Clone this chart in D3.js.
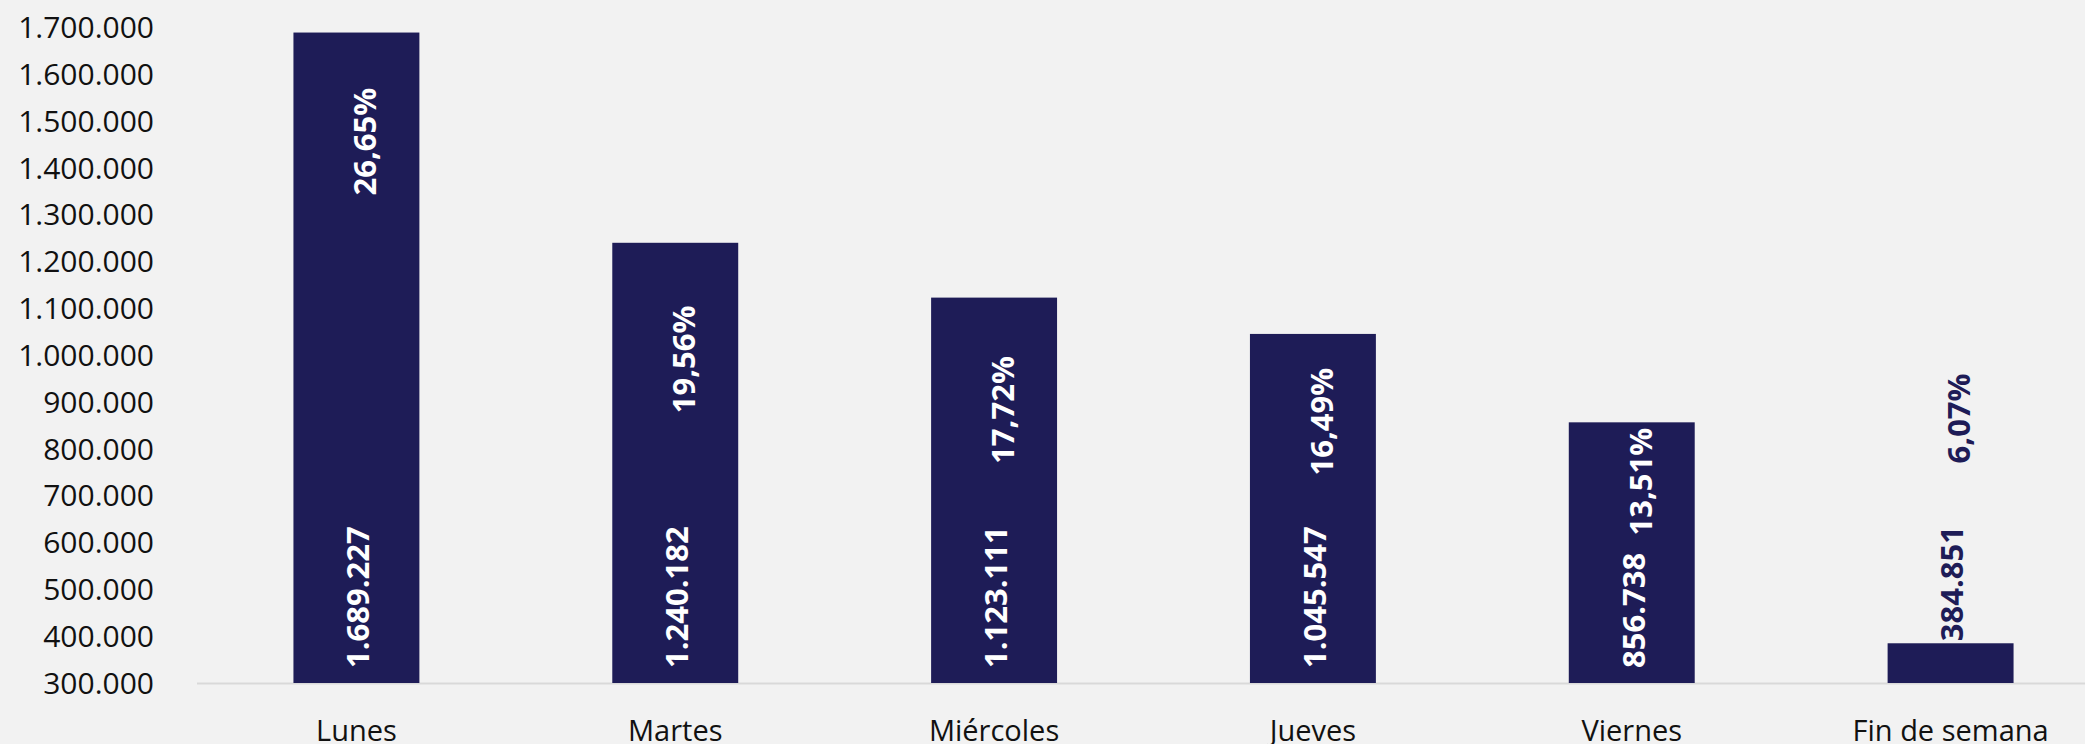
<!DOCTYPE html>
<html>
<head>
<meta charset="utf-8">
<script src="https://cdn.jsdelivr.net/npm/d3@7/dist/d3.min.js"></script>
<style>
  html, body { margin: 0; padding: 0; background: #f2f2f2; overflow: hidden; }
  svg { display: block; }
</style>
</head>
<body>
<svg id="chart" width="2085" height="744"></svg>
<script>
// ---- data ----
const categories = ["Lunes", "Martes", "Miércoles", "Jueves", "Viernes", "Fin de semana"];
const values = [1689227, 1240182, 1123111, 1045547, 856738, 384851];
const shares = ["26,65%", "19,56%", "17,72%", "16,49%", "13,51%", "6,07%"];
// where each share label is centred in axis units
const shareLabelAt = [1456000, 991000, 883000, 858000, 730000, 865000];
const yTicks = [300000, 400000, 500000, 600000, 700000, 800000, 900000, 1000000,
                1100000, 1200000, 1300000, 1400000, 1500000, 1600000, 1700000];

// ---- layout ----
const W = 2085, H = 744;
const barColor = "#1e1c57";
const font = "'Open Sans', 'Noto Sans', sans-serif";

const svg = d3.select("#chart");
svg.append("rect").attr("width", W).attr("height", H).attr("fill", "#f2f2f2");

const x = d3.scaleBand().domain(categories).range([197, 2110])
  .paddingInner(0.605).paddingOuter(0.3025);
const y = d3.scaleLinear().domain([300000, 1700000]).range([683, 27.5]);

const fmt = d3.formatLocale({ decimal: ",", thousands: ".", grouping: [3], currency: ["", "€"] }).format(",d");

// y axis (labels only)
const yAxis = d3.axisLeft(y).tickValues(yTicks).tickFormat(fmt).tickSize(0).tickPadding(0);
const gy = svg.append("g").attr("transform", "translate(154,0)").call(yAxis);
gy.select(".domain").remove();
gy.selectAll("text").attr("font-family", font).attr("font-size", 30).attr("fill", "#111")
  .attr("dy", "0.34em");

// x axis
const xAxis = d3.axisBottom(x).tickSize(0).tickPadding(0);
const gx = svg.append("g").attr("transform", "translate(0,683)").call(xAxis);
gx.select(".domain").remove();
gx.selectAll("text").attr("font-family", font).attr("font-size", 29).attr("fill", "#111")
  .attr("dy", null).attr("y", 58);
svg.append("line").attr("x1", x.range()[0]).attr("x2", W).attr("y1", 683.5).attr("y2", 683.5)
  .attr("stroke", "#d9d9d9").attr("stroke-width", 2);

// bars
const data = categories.map((c, i) => ({ c, v: values[i], s: shares[i], at: shareLabelAt[i] }));
svg.append("g").selectAll("rect").data(data).join("rect")
  .attr("x", d => x(d.c)).attr("width", x.bandwidth())
  .attr("y", d => y(d.v)).attr("height", d => y(300000) - y(d.v))
  .attr("fill", barColor);

// value labels (rotated)
const labelSize = 31;
const vl = svg.append("g").selectAll("text").data(data).join("text")
  .attr("font-family", font).attr("font-weight", 700).attr("font-size", labelSize)
  .attr("text-anchor", "start").attr("dy", "0.35em")
  .text(d => fmt(d.v));
vl.each(function(d) {
  const len = this.getComputedTextLength();
  const base = y(300000) - 15;
  const fits = base - len > y(d.v) + 5;
  const ys = fits ? base : y(d.v) - 2;
  d3.select(this)
    .attr("transform", `translate(${x(d.c) + x.bandwidth() / 2 + 2},${ys}) rotate(-90)`)
    .attr("fill", fits ? "#ffffff" : barColor);
});

// share labels (rotated)
svg.append("g").selectAll("text").data(data).join("text")
  .attr("font-family", font).attr("font-weight", 700).attr("font-size", labelSize)
  .attr("text-anchor", "middle").attr("dy", "0.35em")
  .attr("transform", d => `translate(${x(d.c) + x.bandwidth() / 2 + 9},${y(d.at)}) rotate(-90)`)
  .attr("fill", d => d.at < d.v ? "#ffffff" : barColor)
  .text(d => d.s);
</script>
</body>
</html>
